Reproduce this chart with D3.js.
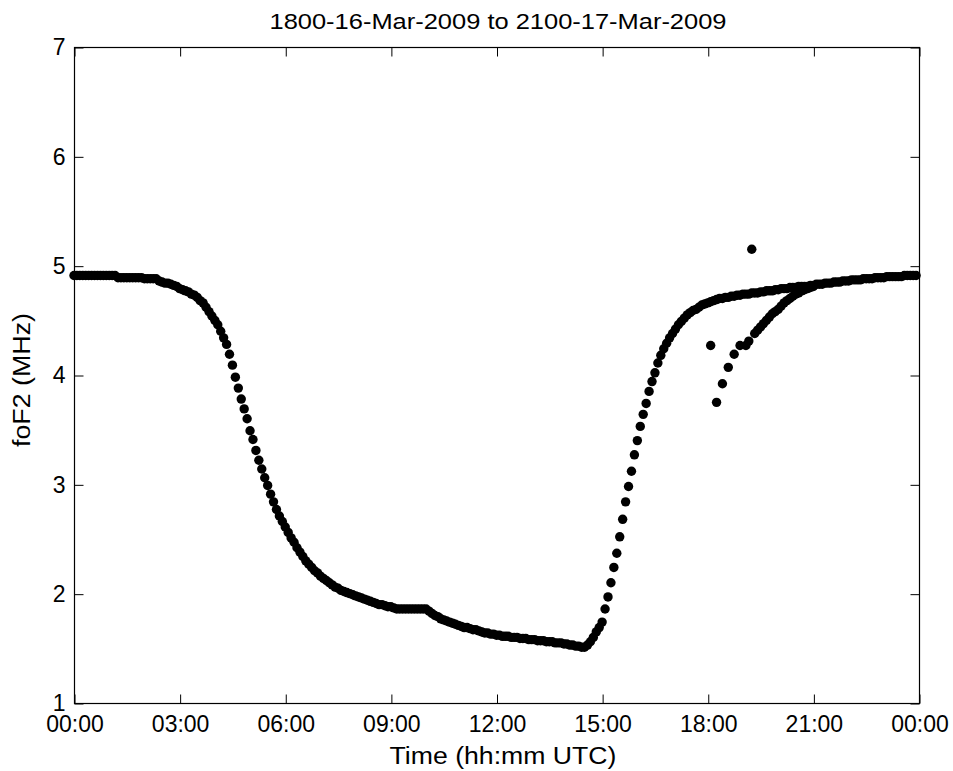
<!DOCTYPE html>
<html><head><meta charset="utf-8">
<script src="https://cdn.jsdelivr.net/npm/d3@7"></script>
<style>
body{margin:0;background:#fff}
svg text{font-family:"Liberation Sans",Arial,Helvetica,sans-serif;fill:#000}
</style>
</head><body>
<svg id="chart" width="953" height="771"></svg>
<script>
// ---------------- data ----------------
const title = "1800-16-Mar-2009 to 2100-17-Mar-2009";
const xLabel = "Time (hh:mm UTC)";
const yLabel = "foF2 (MHz)";
const xTickHours = [0, 3, 6, 9, 12, 15, 18, 21, 24];
const xTickLabels = ["00:00","03:00","06:00","09:00","12:00","15:00","18:00","21:00","00:00"];
const yTicks = [1, 2, 3, 4, 5, 6, 7];

// main trace, one value every 5 minutes starting 00:00 (12 values per hour)
const mainStepMinutes = 5;
const mainFoF2 = [
  4.91,4.91,4.91,4.91,4.91,4.91,4.91,4.91,4.91,4.91,4.91,4.91, // 00h
  4.91,4.91,4.91,4.89,4.89,4.89,4.89,4.89,4.89,4.89,4.89,4.89, // 01h
  4.88,4.88,4.88,4.88,4.88,4.86,4.85,4.84,4.84,4.83,4.82,4.81, // 02h
  4.79,4.78,4.77,4.76,4.74,4.73,4.71,4.68,4.66,4.62,4.58,4.54, // 03h
  4.50,4.46,4.40,4.34,4.28,4.19,4.09,3.98,3.88,3.78,3.69,3.60, // 04h
  3.49,3.41,3.31,3.22,3.14,3.06,2.99,2.91,2.84,2.77,2.71,2.66, // 05h
  2.61,2.56,2.51,2.47,2.42,2.38,2.34,2.30,2.27,2.24,2.21,2.19, // 06h
  2.16,2.14,2.12,2.10,2.08,2.06,2.05,2.03,2.02,2.01,2.00,1.99, // 07h
  1.98,1.97,1.96,1.95,1.94,1.93,1.92,1.91,1.90,1.90,1.89,1.88, // 08h
  1.88,1.87,1.86,1.86,1.86,1.86,1.86,1.86,1.86,1.86,1.86,1.86, // 09h
  1.86,1.84,1.82,1.80,1.79,1.77,1.76,1.75,1.74,1.73,1.72,1.71, // 10h
  1.70,1.69,1.69,1.68,1.67,1.67,1.66,1.65,1.64,1.64,1.63,1.63, // 11h
  1.62,1.62,1.61,1.61,1.61,1.60,1.60,1.60,1.59,1.59,1.59,1.58, // 12h
  1.58,1.58,1.57,1.57,1.57,1.56,1.56,1.56,1.55,1.55,1.55,1.54, // 13h
  1.54,1.53,1.53,1.52,1.52,1.51,1.51,1.53,1.56,1.60,1.65,1.69, // 14h
  1.74,1.86,1.97,2.10,2.24,2.37,2.52,2.68,2.84,2.98,3.12,3.27, // 15h
  3.40,3.53,3.64,3.74,3.85,3.94,4.02,4.11,4.18,4.24,4.29,4.34, // 16h
  4.38,4.42,4.46,4.49,4.52,4.55,4.57,4.59,4.60,4.62,4.64,4.65, // 17h
  4.66,4.67,4.68,4.69,4.70,4.70,4.71,4.71,4.72,4.72,4.73,4.73, // 18h
  4.74,4.74,4.74,4.75,4.75,4.75,4.76,4.76,4.77,4.77,4.77,4.78, // 19h
  4.78,4.79,4.79,4.79,4.80,4.80,4.80,4.81,4.81,4.81,4.81,4.82, // 20h
  4.82,4.83,4.83,4.83,4.84,4.84,4.84,4.85,4.85,4.85,4.86,4.86, // 21h
  4.86,4.87,4.87,4.87,4.87,4.88,4.88,4.88,4.88,4.89,4.89,4.89, // 22h
  4.89,4.90,4.90,4.90,4.90,4.90,4.90,4.91,4.91,4.91,4.91,4.91  // 23h
];

// overlapping evening branch (second day, 18:00-21:00)
const branchTimes = ["18:05","18:15","18:25","18:35","18:45","18:55","19:05","19:10","19:15","19:20",
  "19:25","19:30","19:35","19:40","19:45","19:50","19:55","20:00","20:05","20:10",
  "20:15","20:20","20:25","20:30","20:35","20:40","20:45","20:50","20:55","21:00"];
const branchFoF2 = [4.27,3.75,3.92,4.07,4.19,4.27,4.27,4.31,5.15,4.38,
  4.41,4.44,4.47,4.50,4.53,4.56,4.58,4.60,4.63,4.66,
  4.68,4.70,4.72,4.74,4.75,4.77,4.78,4.79,4.80,4.81];

// ---------------- drawing ----------------
const W = 953, H = 771;
const L = 74, R = 919, T = 47, B = 703;
const svg = d3.select("#chart");
svg.append("rect").attr("width", W).attr("height", H).attr("fill", "#fff");

const x = d3.scaleLinear().domain([0, 24]).range([L, R]);
const y = d3.scaleLinear().domain([1, 7]).range([B, T]);

const toHours = s => { const [h, m] = s.split(":").map(Number); return h + m / 60; };
const points = mainFoF2.map((v, i) => ({t: i * mainStepMinutes / 60, v}))
  .concat(branchTimes.map((s, i) => ({t: toHours(s), v: branchFoF2[i]})));

// box
svg.append("rect").attr("x", L + 0.5).attr("y", T + 0.5)
  .attr("width", R - L).attr("height", B - T)
  .attr("fill", "none").attr("stroke", "#000").attr("stroke-width", 1.2);

function styleAxis(g) {
  g.select(".domain").remove();
  g.selectAll(".tick line").attr("stroke", "#000").attr("stroke-width", 1);
  g.selectAll("text").attr("font-size", 23).attr("font-family", "Liberation Sans, Arial, sans-serif").attr("fill", "#000");
  g.attr("font-family", null).attr("font-size", null);
}

svg.append("g").attr("transform", `translate(0.5,${B + 0.5})`)
  .call(d3.axisBottom(x).tickValues(xTickHours).tickFormat((d, i) => xTickLabels[i])
    .tickSizeInner(-9).tickSizeOuter(0).tickPadding(12))
  .call(styleAxis);
svg.append("g").attr("transform", `translate(0.5,${T + 0.5})`)
  .call(d3.axisTop(x).tickValues(xTickHours).tickFormat("")
    .tickSizeInner(-9).tickSizeOuter(0))
  .call(styleAxis);
svg.append("g").attr("transform", `translate(${L + 0.5},0.5)`)
  .call(d3.axisLeft(y).tickValues(yTicks).tickFormat(d3.format("d"))
    .tickSizeInner(-9).tickSizeOuter(0).tickPadding(9))
  .call(styleAxis);
svg.append("g").attr("transform", `translate(${R + 0.5},0.5)`)
  .call(d3.axisRight(y).tickValues(yTicks).tickFormat("")
    .tickSizeInner(-9).tickSizeOuter(0))
  .call(styleAxis);

// points
svg.append("g").selectAll("circle").data(points).join("circle")
  .attr("cx", d => x(d.t)).attr("cy", d => y(d.v)).attr("r", 4.7)
  .attr("fill", "#000");

// labels
svg.append("text").attr("x", 498).attr("y", 29).attr("text-anchor", "middle")
  .attr("font-size", 22).attr("textLength", 457).attr("lengthAdjust", "spacingAndGlyphs")
  .text(title);
svg.append("text").attr("x", 503).attr("y", 764).attr("text-anchor", "middle")
  .attr("font-size", 23).attr("textLength", 227).attr("lengthAdjust", "spacingAndGlyphs")
  .text(xLabel);
svg.append("text").attr("transform", `translate(30,380) rotate(-90)`).attr("text-anchor", "middle")
  .attr("font-size", 23).attr("textLength", 134).attr("lengthAdjust", "spacingAndGlyphs")
  .text(yLabel);
</script>
</body></html>
